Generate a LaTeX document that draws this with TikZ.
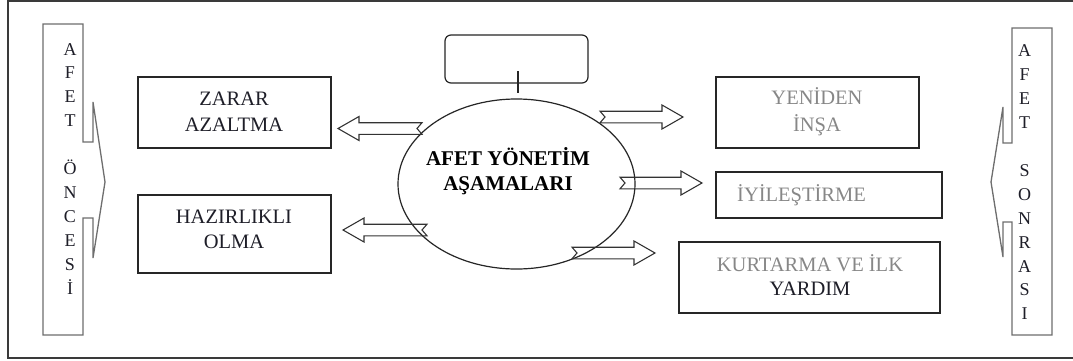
\documentclass[tikz,border=0pt]{standalone}
\usepackage{fontspec}
\setmainfont{Liberation Serif}
\usetikzlibrary{shapes.geometric}
\definecolor{framecol}{RGB}{58,58,58}
\definecolor{sidecol}{RGB}{110,110,110}
\definecolor{greytext}{RGB}{135,135,135}
\definecolor{darktext}{RGB}{30,30,40}
\tikzset{
  frame/.style={draw=framecol, line width=2pt},
  sidebox/.style={draw=sidecol, line width=1.3pt, line join=miter},
  box/.style={draw=black!85, line width=1.5pt, rectangle, inner sep=0pt},
  boxtext/.style={inner sep=0pt, align=center, font=\fontsize{20.5}{26}\selectfont},
  lefttext/.style={boxtext, text=darktext},
  righttext/.style={boxtext, text=greytext},
  vertext/.style={inner sep=0pt, align=center, anchor=north, text=darktext, font=\fontsize{18}{23.9}\selectfont},
  barrow/.style={draw=black!80, line width=1.1pt, line join=miter},
}
\newcommand{\blockarr}[4]{% name, tail x, tip x, y
  \pgfmathsetmacro{\bd}{sign(#3-#2)}
  \draw[barrow] (#2,#4-5.8) -- (#3-21*\bd,#4-5.8) -- (#3-21*\bd,#4-12) -- (#3,#4) coordinate (#1)
    -- (#3-21*\bd,#4+12) -- (#3-21*\bd,#4+5.8) -- (#2,#4+5.8) -- (#2+5*\bd,#4) -- cycle;}
\begin{document}
\begin{tikzpicture}[x=1pt,y=-1pt]
\useasboundingbox (0,0) rectangle (1073,361);
\clip (0,0) rectangle (1073,361);
\fill[white] (0,0) rectangle (1073,361);
% outer frame (right side runs past the edge)
\draw[frame] (8,1) rectangle (1085,357.5);

% left side: AFET ONCESI arrow box
\draw[sidebox] (43,24) -- (83,24) -- (83,142) -- (93,142) -- (93,102) -- (105,182)
  -- (93,258) -- (93,218) -- (83,218) -- (83,335) -- (43,335) -- cycle;
\node[vertext] (pre) at (70,43) {A\\F\\E\\T\\[23.9pt]Ö\\N\\C\\E\\S\\İ};

% right side: AFET SONRASI arrow box
\draw[sidebox] (1052,28) -- (1012,28) -- (1012,143) -- (1003,143) -- (1003,107) -- (991,182)
  -- (1003,257) -- (1003,222) -- (1012,222) -- (1012,335) -- (1052,335) -- cycle;
\node[vertext] (post) at (1024.5,44.9) {A\\F\\E\\T\\[23.9pt]S\\O\\N\\R\\A\\S\\I};

% left boxes
\node[box, minimum width=193, minimum height=71] (zarar) at (234.5,112.5) {};
\node[lefttext] (zarartxt) at (234,111.4) {ZARAR\\[0.2pt]AZALTMA};
\node[box, minimum width=193, minimum height=78] (hazir) at (234.5,234) {};
\node[lefttext, font=\fontsize{20.5}{25}\selectfont] (hazirtxt) at (234,229.2) {HAZIRLIKLI\\OLMA};

% right boxes
\node[box, minimum width=203, minimum height=71] (yeniden) at (817.5,112.5) {};
\node[righttext, font=\fontsize{20.5}{26.7}\selectfont] (yenidentxt) at (817,111.9) {YENİDEN\\İNŞA};
\node[box, minimum width=226, minimum height=46] (iyi) at (829,195) {};
\node[righttext, anchor=west] (iyitxt) at (737,195) {İYİLEŞTİRME};
\node[box, minimum width=261, minimum height=71] (kurtarma) at (809.5,277.5) {};
\node[boxtext, font=\fontsize{20.5}{23.3}\selectfont] (kurtxt) at (810,275.2)
  {\textcolor{greytext}{KURTARMA VE İLK}\\\textcolor{darktext}{YARDIM}};

% central ellipse and title box
\node[draw=black!85, line width=1.2pt, rounded corners=6pt, rectangle,
      minimum width=143, minimum height=48] (topbox) at (516.5,59) {};
\node[ellipse, draw=black!85, line width=1.2pt, minimum width=237, minimum height=170,
      inner sep=0pt] (core) at (516.5,184) {};
\node[inner sep=0pt, align=center, font=\bfseries\fontsize{21}{25.7}\selectfont] (coretxt)
  at (508,171.3) {AFET YÖNETİM\\AŞAMALARI};
\coordinate (stemtop) at (518,71);
\coordinate (stembot) at (518,93);
\draw[black!85, line width=1.2pt] (stemtop) -- (stembot);

% block arrows out of the ellipse
\blockarr{tipA}{422}{338}{128.5}
\blockarr{tipB}{427}{343}{230}
\blockarr{tipC}{600}{683}{117}
\blockarr{tipD}{620}{702}{183}
\blockarr{tipE}{572}{655}{253}
\end{tikzpicture}
\end{document}
